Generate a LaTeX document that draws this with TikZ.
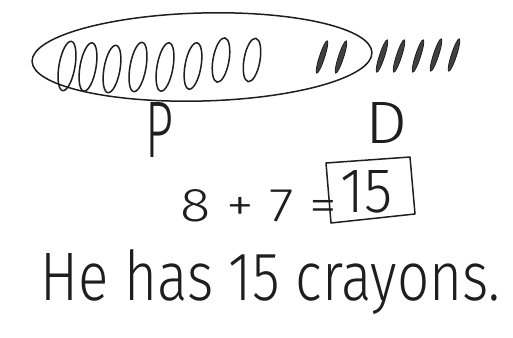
\documentclass[tikz,border=0pt]{standalone}
\usepackage{fontspec}
\setmainfont{Fira Sans Light}
\usepackage{graphicx}
\definecolor{ink}{HTML}{1E1E1E}
\tikzset{
  pen/.style={draw=ink, line width=1.5pt, line cap=round, line join=round},
  oval/.style={pen},
  tally/.style={draw=ink, fill=ink!85, line width=0.8pt},
  hand/.style={text=ink, inner sep=0pt},
}
\begin{document}
\begin{tikzpicture}[x=1pt,y=-1pt]
\useasboundingbox[fill=white] (0,0) rectangle (513,337);
% big loop
\draw[pen] (202,57) circle [x radius=170pt, y radius=44pt, rotate=1.5];
% eight ovals
\foreach \cx/\cy/\ry in {67/66/25, 88/67/24.5, 112/69/24, 138/67/25, 165/67/24.5, 193/66/23.5, 221/60/22.5, 252/60/22}
  \draw[oval] (\cx,\cy) circle [x radius=8pt, y radius=\ry pt, rotate=-10];
% tallies
\foreach \cx/\cy in {322/57, 341/57, 382/56, 399/56, 418/56, 436/55, 454/55}
  \draw[tally] (\cx,\cy) circle [x radius=2.6pt, y radius=17pt, rotate=-18];
% labels
\node[hand, anchor=base west] (p) at (145,157) {\resizebox{28pt}{55pt}{P}};
\node[hand, anchor=base west] (d) at (365,143) {\resizebox{42pt}{41pt}{D}};
% equation
\node[hand, anchor=base west] (eq) at (180,221) {\resizebox{157pt}{32pt}{8 + 7 =}};
\node[hand, anchor=base west] (ans) at (340,212) {\resizebox{52pt}{42pt}{15}};
\draw[pen] (326,163) -- (410,157) -- (415,214) -- (331,223) -- cycle;
% sentence
\node[hand, anchor=base west] (sent) at (40,300) {\resizebox{460pt}{51pt}{He has 15 crayons.}};
\end{tikzpicture}
\end{document}
